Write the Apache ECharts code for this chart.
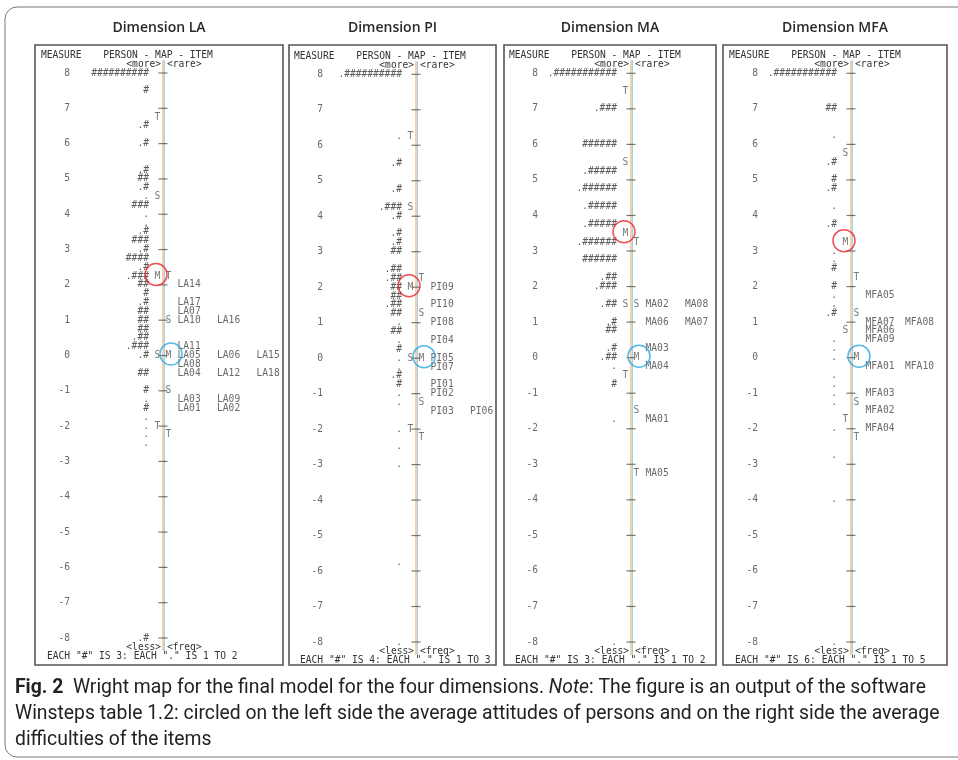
<!DOCTYPE html>
<html><head><meta charset="utf-8">
<script src="https://cdn.jsdelivr.net/npm/echarts@6/dist/echarts.min.js"></script>
<style>html,body{margin:0;padding:0;background:#fff}#c{width:958px;height:760px}</style>
</head><body><div id="c"></div>
<script>
// ================= DATA =================
const tickValues = [8, 7, 6, 5, 4, 3, 2, 1, 0, -1, -2, -3, -4, -5, -6, -7, -8];

// ---- Dimension LA ----
const personsLA = [
  [8, "##########"], [7.5, "#"], [6.5, ".#"], [6, ".#"], [5.25, ".#"], [5, "##"],
  [4.75, ".#"], [4.5, "."], [4.25, "###"], [4, "."], [3.75, "."], [3.5, ".#"],
  [3.25, "###"], [3, ".#"], [2.75, "####"], [2.5, ".#"], [2.25, ".###"], [2, "##"],
  [1.75, "#"], [1.5, ".#"], [1.25, "##"], [1, "##"], [0.75, "##"], [0.5, ".##"],
  [0.25, ".###"], [0, ".#"], [-0.5, "##"], [-1, "#"], [-1.25, "."], [-1.5, "#"],
  [-1.75, "."], [-2, "."], [-2.25, "."], [-2.5, "."], [-8, ".#"]
];
const personMarksLA = [[6.75, "T"], [4.5, "S"], [2.25, "M"], [0, "S"], [-2, "T"]];
const itemMarksLA = [[2.25, "T"], [1, "S"], [0, "M"], [-1, "S"], [-2.25, "T"]];
const itemsLA = [
  [2, "LA14"], [1.5, "LA17"], [1.25, "LA07"], [1, "LA10"], [1, "LA16"], [0.25, "LA11"],
  [0, "LA05"], [0, "LA06"], [0, "LA15"], [-0.25, "LA08"], [-0.5, "LA04"], [-0.5, "LA12"],
  [-0.5, "LA18"], [-1.25, "LA03"], [-1.25, "LA09"], [-1.5, "LA01"], [-1.5, "LA02"]
];
const noteLA = 'EACH "#" IS 3: EACH "." IS 1 TO 2';

// ---- Dimension PI ----
const personsPI = [
  [8, ".##########"], [6.25, "."], [5.5, ".#"], [4.75, ".#"], [4.25, ".###"], [4, ".#"],
  [3.5, ".#"], [3.25, ".#"], [3, "##"], [2.5, ".##"], [2.25, ".##"], [2, "##"],
  [1.75, "##"], [1.5, ".##"], [1.25, "##"], [1, "."], [0.75, "##"], [0.5, "."],
  [0.25, "#"], [0, "."], [-0.25, "."], [-0.5, ".#"], [-0.75, "#"], [-1, "."],
  [-1.25, "."], [-2, "."], [-2.5, "."], [-3, "."], [-5.75, "."], [-8, "."]
];
const personMarksPI = [[6.25, "T"], [4.25, "S"], [2, "M"], [0, "S"], [-2, "T"]];
const itemMarksPI = [[2.25, "T"], [1.25, "S"], [0, "M"], [-1.25, "S"], [-2.25, "T"]];
const itemsPI = [
  [2, "PI09"], [1.5, "PI10"], [1, "PI08"], [0.5, "PI04"], [0, "PI05"], [-0.25, "PI07"],
  [-0.75, "PI01"], [-1, "PI02"], [-1.5, "PI03"], [-1.5, "PI06"]
];
const notePI = 'EACH "#" IS 4: EACH "." IS 1 TO 3';

// ---- Dimension MA ----
const personsMA = [
  [8, ".###########"], [7, ".###"], [6, "######"], [5.25, ".#####"], [4.75, ".######"],
  [4.25, ".#####"], [3.75, ".#####"], [3.25, ".######"], [2.75, "######"], [2.25, ".##"],
  [2, ".###"], [1.5, ".##"], [1, ".#"], [0.75, "##"], [0.25, ".#"], [0, ".##"],
  [-0.25, "."], [-0.75, "#"], [-1.75, "."], [-8, "."]
];
const personMarksMA = [[7.5, "T"], [5.5, "S"], [3.5, "M"], [1.5, "S"], [-0.5, "T"]];
const itemMarksMA = [[3.25, "T"], [1.5, "S"], [0, "M"], [-1.5, "S"], [-3.25, "T"]];
const itemsMA = [
  [1.5, "MA02"], [1.5, "MA08"], [1, "MA06"], [1, "MA07"], [0.25, "MA03"], [-0.25, "MA04"],
  [-1.75, "MA01"], [-3.25, "MA05"]
];
const noteMA = 'EACH "#" IS 3: EACH "." IS 1 TO 2';

// ---- Dimension MFA ----
const personsMFA = [
  [8, ".###########"], [7, "##"], [6.25, "."], [5.5, ".#"], [5, "#"], [4.75, ".#"],
  [4.25, "."], [3.75, ".#"], [3, "."], [2.75, "."], [2.5, "#"], [2, "#"], [1.75, "."],
  [1.5, "."], [1.25, ".#"], [0.5, "."], [0.25, "."], [0, "."], [-0.5, "."], [-0.75, "."],
  [-1, "."], [-1.25, "."], [-2, "."], [-2.75, "."], [-4, "."], [-8, "."]
];
const personMarksMFA = [[5.75, "S"], [3.25, "M"], [0.75, "S"], [-1.75, "T"]];
const itemMarksMFA = [[2.25, "T"], [1.25, "S"], [0, "M"], [-1.25, "S"], [-2.25, "T"]];
const itemsMFA = [
  [1.75, "MFA05"], [1, "MFA07"], [1, "MFA08"], [0.75, "MFA06"], [0.5, "MFA09"],
  [-0.25, "MFA01"], [-0.25, "MFA10"], [-1, "MFA03"], [-1.5, "MFA02"], [-2, "MFA04"]
];
const noteMFA = 'EACH "#" IS 6: EACH "." IS 1 TO 5';

const titles = ["Dimension LA", "Dimension PI", "Dimension MA", "Dimension MFA"];
const captionLines = [
  "{b|Fig. 2}  Wright map for the final model for the four dimensions. {i|Note}: The figure is an output of the software",
  "Winsteps table 1.2: circled on the left side the average attitudes of persons and on the right side the average",
  "difficulties of the items"
];

// ================= LAYOUT / STYLE =================
const MONO = '"DejaVu Sans Mono", "Liberation Mono", monospace';
const FS = 9.6;
const TXT = '#333';
const ORANGE = '#e6a25e', LBLUE = '#9dd3ef';
const LBL_X = -93, P_END = -14, P_MARK = -5.5, I_MARK = 5.5, I_START = 14.5, I_COL = 39.5;
const BOX_TOP = 45, BOX_BOTTOM = 665;

const panels = [
  { persons: personsLA, items: itemsLA, pMarks: personMarksLA, iMarks: itemMarksLA, note: noteLA, boxL: 35, boxR: 283, axisX: 163, y8: 73, yM8: 638 },
  { persons: personsPI, items: itemsPI, pMarks: personMarksPI, iMarks: itemMarksPI, note: notePI, boxL: 289, boxR: 496, axisX: 416, y8: 74.3, yM8: 642 },
  { persons: personsMA, items: itemsMA, pMarks: personMarksMA, iMarks: itemMarksMA, note: noteMA, boxL: 504, boxR: 716, axisX: 631, y8: 73.3, yM8: 642 },
  { persons: personsMFA, items: itemsMFA, pMarks: personMarksMFA, iMarks: itemMarksMFA, note: noteMFA, boxL: 723, boxR: 947, axisX: 851, y8: 73.3, yM8: 642 }
];

const monoLabel = (pos, color) => ({
  show: true, position: pos, distance: 0, formatter: '{b}',
  fontFamily: MONO, fontSize: FS, color: color || TXT
});
const hidden = { color: 'rgba(0,0,0,0)' };

const option = { animation: false, grid: [], xAxis: [], yAxis: [], series: [], graphic: [] };

// outer frame
option.graphic.push({ type: 'rect', shape: { x: 5, y: 7, width: 990, height: 750, r: 12 },
  style: { fill: 'none', stroke: '#777', lineWidth: 1 }, z: 0 });

panels.forEach((p, i) => {
  option.grid.push({ left: p.boxL, top: p.y8, width: p.boxR - p.boxL, height: p.yM8 - p.y8,
    containLabel: false, outerBoundsMode: 'none' });
  option.xAxis.push({ type: 'value', gridIndex: i, min: p.boxL - p.axisX, max: p.boxR - p.axisX, show: false });
  option.yAxis.push({ type: 'value', gridIndex: i, min: -8, max: 8, interval: 1, show: false });
  const base = { type: 'scatter', xAxisIndex: i, yAxisIndex: i, silent: true, symbolSize: 0.1, itemStyle: hidden, z: 3, clip: false };
  // ruler line (logit scale)
  option.series.push({ type: 'line', xAxisIndex: i, yAxisIndex: i, silent: true, symbol: 'none', z: 2,
    lineStyle: { color: ORANGE, width: 1, shadowColor: LBLUE, shadowOffsetX: 1.5, shadowBlur: 0 },
    data: [[0, tickValues[0]], [0, tickValues[tickValues.length - 1]]] });
  // integer ticks on the ruler
  option.series.push({ type: 'scatter', xAxisIndex: i, yAxisIndex: i, silent: true, symbol: 'rect', symbolSize: [9, 1.2],
    itemStyle: { color: '#555' }, data: tickValues.map(v => [0, v]), z: 4 });
  // tick labels (MEASURE column)
  option.series.push(Object.assign({}, base, {
    data: tickValues.map(v => ({ value: [LBL_X, v], name: String(v) })), label: monoLabel('left', '#444')
  }));
  // persons
  option.series.push(Object.assign({}, base, {
    data: p.persons.map(([m, s]) => ({ value: [P_END, m], name: s })), label: monoLabel('left')
  }));
  // person markers
  option.series.push(Object.assign({}, base, {
    data: p.pMarks.map(([m, s]) => ({ value: [P_MARK, m], name: s })), label: monoLabel('inside', '#555')
  }));
  // item markers
  option.series.push(Object.assign({}, base, {
    data: p.iMarks.map(([m, s]) => ({ value: [I_MARK, m], name: s })), label: monoLabel('inside', '#555')
  }));
  // items
  const cnt = {};
  option.series.push(Object.assign({}, base, {
    data: p.items.map(([m, s]) => { const c = cnt[m] || 0; cnt[m] = c + 1; return { value: [I_START + c * I_COL, m], name: s }; }),
    label: monoLabel('right', '#444')
  }));
  // circles around means
  const pm = p.pMarks.find(d => d[1] === 'M')[0];
  const im = p.iMarks.find(d => d[1] === 'M')[0];
  option.series.push({ type: 'scatter', xAxisIndex: i, yAxisIndex: i, silent: true, symbol: 'circle', symbolSize: 22,
    symbolOffset: [-1.5, -1.5], itemStyle: { color: 'rgba(0,0,0,0)', borderColor: '#e8262b', borderWidth: 1.5 },
    data: [[P_MARK, pm]], z: 5 });
  option.series.push({ type: 'scatter', xAxisIndex: i, yAxisIndex: i, silent: true, symbol: 'circle', symbolSize: 22,
    symbolOffset: [2.5, -1.5], itemStyle: { color: 'rgba(0,0,0,0)', borderColor: '#2aa8e0', borderWidth: 1.5 },
    data: [[I_MARK, im]], z: 5 });

  // panel box, title, header & footer text
  option.graphic.push({ type: 'rect', shape: { x: p.boxL, y: BOX_TOP, width: p.boxR - p.boxL, height: BOX_BOTTOM - BOX_TOP },
    style: { fill: 'none', stroke: '#555', lineWidth: 1.6 }, z: 1 });
  option.graphic.push({ type: 'text', x: (p.boxL + p.boxR) / 2, y: 28,
    style: { text: titles[i], align: 'center', verticalAlign: 'middle', fontFamily: '"Open Sans", "Noto Sans", sans-serif', fontSize: 14, fontWeight: 600, fill: '#2a2a2a' } });
  const t = (x, y, s, align) => ({ type: 'text', x, y, style: { text: s, align, verticalAlign: 'middle', fontFamily: MONO, fontSize: FS, fill: TXT }, z: 10 });
  option.graphic.push(t(p.axisX - 122, p.y8 - 17.5, 'MEASURE', 'left'));
  option.graphic.push(t(p.axisX - 5, p.y8 - 17.5, 'PERSON - MAP - ITEM', 'center'));
  option.graphic.push(t(p.axisX - 2, p.y8 - 8.5, '<more>', 'right'));
  option.graphic.push(t(p.axisX + 4, p.y8 - 8.5, '<rare>', 'left'));
  option.graphic.push(t(p.axisX - 2, p.yM8 + 9, '<less>', 'right'));
  option.graphic.push(t(p.axisX + 4, p.yM8 + 9, '<freq>', 'left'));
  option.graphic.push(t(p.axisX - 116, p.yM8 + 18, p.note, 'left'));
  // ruler continuation above +8 and below -8
  [[p.y8 - 13, p.y8], [p.yM8, p.yM8 + 13]].forEach(([a, b]) => {
    option.graphic.push({ type: 'line', shape: { x1: p.axisX, y1: a, x2: p.axisX, y2: b }, style: { stroke: ORANGE, lineWidth: 1 }, z: 2 });
    option.graphic.push({ type: 'line', shape: { x1: p.axisX + 1.5, y1: a, x2: p.axisX + 1.5, y2: b }, style: { stroke: LBLUE, lineWidth: 1 }, z: 2 });
  });
});

// caption, font size fitted to the original line width
const CAP_FONT = 'Roboto, "Liberation Sans", sans-serif';
const ctx = document.createElement('canvas').getContext('2d');
ctx.font = '20px ' + CAP_FONT;
const capFs = 20 * 925 / ctx.measureText(captionLines[1]).width;
captionLines.forEach((s, k) => {
  option.graphic.push({ type: 'text', x: 15, y: 688 + k * 26,
    style: { text: s, align: 'left', verticalAlign: 'middle', fontFamily: CAP_FONT, fontSize: capFs, fill: '#222',
      rich: { b: { fontWeight: 'bold', fontFamily: CAP_FONT, fontSize: capFs, fill: '#222' },
              i: { fontStyle: 'italic', fontFamily: CAP_FONT, fontSize: capFs, fill: '#222' } } } });
});

const chart = echarts.init(document.getElementById('c'), null, { renderer: 'canvas' });
chart.setOption(option);
</script></body></html>
